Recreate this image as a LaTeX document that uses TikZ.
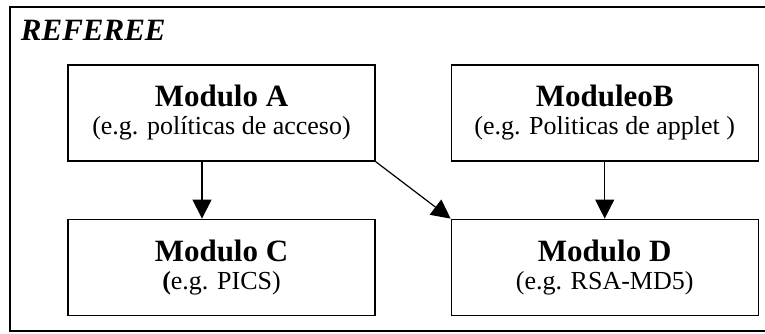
\documentclass[tikz,border=0pt]{standalone}
\usepackage{fontspec}
\setmainfont{Liberation Serif}
\usetikzlibrary{positioning,arrows.meta}

\newcommand{\modtitle}[1]{{\fontsize{31}{28}\selectfont\bfseries #1}}

\begin{document}
\begin{tikzpicture}[x=1pt, y=1pt, line width=1.2pt,
    main/.style = {draw, rectangle, minimum width=307pt, minimum height=96pt,
                   align=center, font=\fontsize{26}{28}\selectfont},
    arr/.style = {-{Triangle[length=19pt,width=19pt]}}]
    \useasboundingbox (0,0) rectangle (765,333);
    % outer frame, right side runs off the page
    \draw (775,326) -- (10,326) -- (10,2) -- (775,2);
    \node[anchor=base west] (title) at (17,293) {\fontsize{31}{31}\selectfont\bfseries\itshape REFEREE};

    \node[main] (A) at (221.5,220) {\modtitle{Modulo A}\\(e.g. políticas de acceso)};
    \node[main] (B) [right=75pt of A] {\modtitle{ModuleoB}\\(e.g. Politicas de applet )};
    \node[main] (C) [below=57pt of A] {\modtitle{Modulo C}\\\textbf{(}e.g. PICS)};
    \node[main] (D) [below=57pt of B] {\modtitle{Modulo D}\\(e.g. RSA-MD5)};

    \draw[arr] ([xshift=-19.5pt]A.south) -- ([xshift=-19.5pt]C.north);
    \draw[arr] (B) -- (D);
    \draw[arr] (A.south east) -- (D.north west);
\end{tikzpicture}
\end{document}
